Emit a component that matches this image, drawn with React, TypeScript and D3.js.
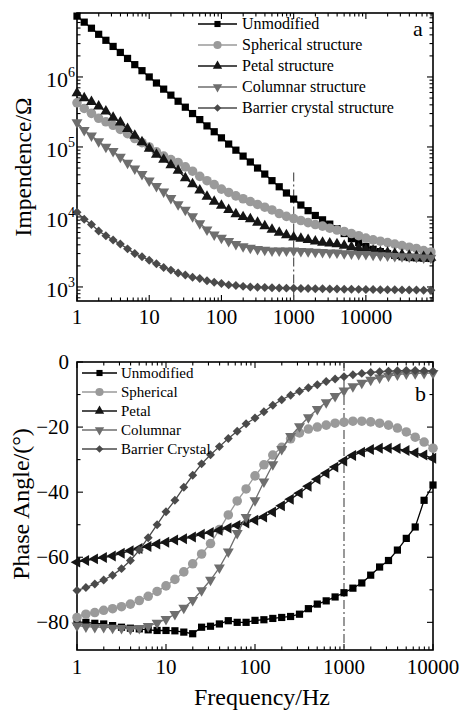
import React from 'react';
import * as d3 from 'd3';

// frequencies (Hz), 10 points per decade
const freq = [
  1, 1.259, 1.585, 1.995, 2.512, 3.162, 3.981, 5.012, 6.31, 7.943,
  10, 12.59, 15.85, 19.95, 25.12, 31.62, 39.81, 50.12, 63.1, 79.43,
  100, 125.9, 158.5, 199.5, 251.2, 316.2, 398.1, 501.2, 631, 794.3,
  1000, 1259, 1585, 1995, 2512, 3162, 3981, 5012, 6310, 7943,
  10000, 12589, 15849, 19953, 25119, 31623, 39811, 50119, 63096, 79433,
];

// panel a: impedance (ohm)
const impUnmodified = [
  7.4e6, 6.07e6, 4.97e6, 4.07e6, 3.34e6, 2.73e6, 2.24e6, 1.84e6, 1.5e6, 1.23e6,
  1.0e6, 8.2e5, 6.7e5, 5.5e5, 4.5e5, 3.7e5, 3.0e5, 2.46e5, 2.0e5, 1.65e5,
  1.35e5, 1.1e5, 9.0e4, 7.4e4, 6.1e4, 5.0e4, 4.1e4, 3.3e4, 2.7e4, 2.2e4,
  1.8e4, 1.48e4, 1.23e4, 1.05e4, 9.1e3, 7.9e3, 6.8e3, 5.8e3, 4.9e3, 4.3e3,
  3.8e3, 3.45e3, 3.2e3, 3.0e3, 2.82e3, 2.7e3, 2.63e3, 2.6e3, 2.57e3, 2.55e3,
];
const impSpherical = [
  4.27e5, 3.55e5, 3.02e5, 2.57e5, 2.29e5, 2.04e5, 1.78e5, 1.55e5, 1.32e5, 1.15e5,
  1.0e5, 8.5e4, 7.4e4, 6.6e4, 6.0e4, 5.2e4, 4.5e4, 3.8e4, 3.3e4, 2.9e4,
  2.5e4, 2.24e4, 2.0e4, 1.82e4, 1.66e4, 1.51e4, 1.38e4, 1.26e4, 1.12e4, 1.02e4,
  9.5e3, 8.9e3, 8.3e3, 7.8e3, 7.4e3, 6.9e3, 6.5e3, 6.2e3, 5.8e3, 5.4e3,
  5.0e3, 4.7e3, 4.5e3, 4.3e3, 4.1e3, 3.9e3, 3.7e3, 3.55e3, 3.3e3, 3.16e3,
];
const impPetal = [
  5.9e5, 5.0e5, 4.4e5, 3.8e5, 3.24e5, 2.63e5, 2.24e5, 1.82e5, 1.45e5, 1.17e5,
  9.5e4, 7.8e4, 6.6e4, 5.5e4, 4.6e4, 3.6e4, 2.95e4, 2.4e4, 1.95e4, 1.66e4,
  1.45e4, 1.26e4, 1.1e4, 1.0e4, 9.3e3, 8.3e3, 7.4e3, 6.6e3, 6.0e3, 5.5e3,
  5.1e3, 4.9e3, 4.7e3, 4.5e3, 4.3e3, 4.2e3, 4.1e3, 3.9e3, 3.7e3, 3.55e3,
  3.4e3, 3.3e3, 3.16e3, 3.1e3, 3.0e3, 2.9e3, 2.8e3, 2.75e3, 2.7e3, 2.63e3,
];
const impColumnar = [
  2.24e5, 1.74e5, 1.45e5, 1.2e5, 1.0e5, 8.7e4, 7.2e4, 5.9e4, 4.9e4, 4.1e4,
  3.3e4, 2.75e4, 2.3e4, 1.86e4, 1.51e4, 1.26e4, 1.02e4, 8.1e3, 6.6e3, 5.6e3,
  5.0e3, 4.5e3, 4.1e3, 3.8e3, 3.6e3, 3.47e3, 3.39e3, 3.31e3, 3.3e3, 3.3e3,
  3.3e3, 3.24e3, 3.22e3, 3.16e3, 3.15e3, 3.1e3, 3.08e3, 3.02e3, 3.0e3, 2.95e3,
  2.93e3, 2.88e3, 2.82e3, 2.8e3, 2.75e3, 2.73e3, 2.7e3, 2.68e3, 2.63e3, 2.6e3,
];
const impBarrier = [
  1.17e4, 9.3e3, 7.8e3, 6.3e3, 5.4e3, 4.7e3, 4.1e3, 3.5e3, 3.0e3, 2.7e3,
  2.4e3, 2.14e3, 1.9e3, 1.74e3, 1.58e3, 1.48e3, 1.38e3, 1.32e3, 1.23e3, 1.17e3,
  1.12e3, 1.07e3, 1.05e3, 1.02e3, 1.0e3, 990, 980, 975, 968, 962,
  957, 952, 948, 944, 940, 936, 933, 930, 927, 924,
  921, 918, 915, 912, 910, 908, 905, 903, 900, 898,
];

// panel b: phase angle (deg), 1 Hz .. 10 kHz
const phaseUnmodified = [
  -80, -80, -80.3, -80.5, -81, -81.5, -81.8, -82, -82.3, -82.5,
  -82.5, -82.6, -83, -83.5, -81.5, -81.2, -80.5, -79.5, -80, -80,
  -79.4, -79.2, -78.8, -78.5, -78.2, -77.5, -75.8, -74.4, -73.4, -72.2,
  -70.9, -69.5, -67.9, -65.5, -63, -61, -57.8, -54.2, -50.7, -42.5, -37.8,
];
const phaseSpherical = [
  -78.5, -77.5, -77, -76.3, -75.8, -75.2, -74.4, -73.3, -72, -70.5,
  -68.8, -66.8, -64.5, -62, -59, -55.8, -51.5, -47, -42.7, -39,
  -35, -31.6, -28.6, -26.2, -23.6, -21.8, -20.6, -20, -19.4, -18.8,
  -18.5, -18.2, -18.2, -18.4, -18.8, -19.4, -20.3, -21.5, -23.1, -24.6, -26.5,
];
const phasePetal = [
  -61.5, -61, -60.5, -60.1, -59.6, -58.8, -58, -57.3, -56.7, -55.9,
  -55.4, -54.7, -54.3, -53.8, -52.9, -52.4, -51.7, -51, -50.2, -49.5,
  -48.6, -47.6, -46.1, -44.2, -42.2, -40.3, -38.2, -36, -34.2, -32.3,
  -30.4, -28.7, -27.7, -26.9, -26.5, -26.5, -26.6, -27.2, -27.9, -28.6, -29.6,
];
const phaseColumnar = [
  -81, -81.3, -81.5, -81.5, -81.7, -81.8, -82, -81.8, -81.2, -80.2,
  -79, -77.5, -75.6, -73.2, -70.2, -67, -63.2, -58.3, -52.6, -47.7,
  -42.5, -36.8, -31.5, -26.8, -22.8, -19.8, -17, -14.5, -12.4, -10.5,
  -8.8, -7.5, -6.4, -5.5, -4.8, -4.3, -3.9, -3.6, -3.5, -3.4, -3.4,
];
const phaseBarrier = [
  -70.2, -69.3, -68.2, -67, -65.5, -63.5, -61, -57.8, -54, -50,
  -46, -42.5, -38.5, -34.8, -31.3, -28.5, -26, -23.5, -21.3, -19,
  -17.2, -15.3, -13.3, -11.6, -10.2, -9, -7.9, -7, -6, -5.2,
  -4.5, -3.9, -3.5, -3.2, -3, -2.8, -2.7, -2.6, -2.6, -2.7, -2.8,
];

const legendA = ['Unmodified', 'Spherical structure', 'Petal structure', 'Columnar structure', 'Barrier crystal structure'];
const legendB = ['Unmodified', 'Spherical', 'Petal', 'Columnar', 'Barrier Crystal'];
const freqTicks = [1, 10, 100, 1000, 10000];
const impExponents = [3, 4, 5, 6];
const phaseTicks = [0, -20, -40, -60, -80];

const FONT = '"Liberation Serif", "Times New Roman", serif';

const looks = [
  { color: '#000000', shape: 'square' },
  { color: '#9a9a9a', shape: 'circle' },
  { color: '#151515', shape: 'up' },
  { color: '#6e6e6e', shape: 'down' },
  { color: '#4a4a4a', shape: 'diamond' },
];

function symbolOf(shape) {
  if (shape === 'square') return { d: d3.symbol().type(d3.symbolSquare).size(52)(), rot: 0 };
  if (shape === 'circle') return { d: d3.symbol().type(d3.symbolCircle).size(72)(), rot: 0 };
  if (shape === 'diamond') return { d: d3.symbol().type(d3.symbolSquare).size(40)(), rot: 45 };
  const tri = d3.symbol().type(d3.symbolTriangle).size(52)();
  if (shape === 'down') return { d: tri, rot: 180 };
  if (shape === 'left') return { d: tri, rot: -90 };
  return { d: tri, rot: 0 };
}

function logMinors(lo, hi) {
  const out = [];
  for (let p = Math.floor(Math.log10(lo)); p <= Math.ceil(Math.log10(hi)); p++) {
    for (let m = 2; m <= 9; m++) {
      const v = m * Math.pow(10, p);
      if (v > lo && v < hi) out.push(v);
    }
  }
  return out;
}

function Frame({ x0, x1, y0, y1, xMaj, xMin, yMaj, yMin }) {
  const big = 6, small = 3.5;
  const lines = [];
  xMaj.forEach((x, i) => {
    lines.push(<line key={'xb' + i} x1={x} x2={x} y1={y1} y2={y1 - big} />);
    lines.push(<line key={'xt' + i} x1={x} x2={x} y1={y0} y2={y0 + big} />);
  });
  xMin.forEach((x, i) => {
    lines.push(<line key={'xmb' + i} x1={x} x2={x} y1={y1} y2={y1 - small} />);
    lines.push(<line key={'xmt' + i} x1={x} x2={x} y1={y0} y2={y0 + small} />);
  });
  yMaj.forEach((y, i) => {
    lines.push(<line key={'yl' + i} x1={x0} x2={x0 + big} y1={y} y2={y} />);
    lines.push(<line key={'yr' + i} x1={x1} x2={x1 - big} y1={y} y2={y} />);
  });
  yMin.forEach((y, i) => {
    lines.push(<line key={'yml' + i} x1={x0} x2={x0 + small} y1={y} y2={y} />);
    lines.push(<line key={'ymr' + i} x1={x1} x2={x1 - small} y1={y} y2={y} />);
  });
  return (
    <g stroke="#000" strokeWidth={1.1}>
      <rect x={x0} y={y0} width={x1 - x0} height={y1 - y0} fill="none" strokeWidth={1.6} />
      {lines}
    </g>
  );
}

function Series({ xs, ys, x, y, color, shape }) {
  const line = d3.line().x((d, i) => x(xs[i])).y(d => y(d));
  const sym = symbolOf(shape);
  return (
    <g>
      <path d={line(ys)} fill="none" stroke={color} strokeWidth={1.3} />
      {ys.map((v, i) => (
        <path key={i} d={sym.d} fill={color}
          transform={`translate(${x(xs[i])},${y(v)}) rotate(${sym.rot})`} />
      ))}
    </g>
  );
}

function Legend({ labels, x0, x1, xt, y0, dy, size, shapes }) {
  return (
    <g>
      {labels.map((lab, i) => {
        const yy = y0 + i * dy;
        const sym = symbolOf(shapes[i]);
        const c = looks[i].color;
        return (
          <g key={i}>
            <line x1={x0} x2={x1} y1={yy} y2={yy} stroke={c} strokeWidth={1.4} />
            <path d={sym.d} fill={c} transform={`translate(${(x0 + x1) / 2},${yy}) rotate(${sym.rot}) scale(0.85)`} />
            <text x={xt} y={yy + 5} fontSize={size} fontFamily={FONT} fill="#000">{lab}</text>
          </g>
        );
      })}
    </g>
  );
}

export default function App() {
  const xA = d3.scaleLog().domain([1, 85000]).range([77, 433]);
  const yA = d3.scaleLog().domain([630, 8.2e6]).range([301, 13]);
  const xB = d3.scaleLog().domain([1, 10000]).range([77, 433]);
  const yB = d3.scaleLinear().domain([-88.5, 0]).range([650, 362]);

  const impSeries = [impUnmodified, impSpherical, impPetal, impColumnar, impBarrier];
  const phaseSeries = [phaseUnmodified, phaseSpherical, phasePetal, phaseColumnar, phaseBarrier];
  const freqB = freq.slice(0, 41);

  const shapesA = looks.map(l => l.shape);
  const shapesB = ['square', 'circle', 'left', 'down', 'diamond'];

  const yMinorB = [-10, -30, -50, -70];

  return (
    <svg width={463} height={712} style={{ position: 'absolute', left: 0, top: 0, background: '#fff' }}>
      {/* panel a */}
      <Frame x0={77} x1={433} y0={13} y1={301}
        xMaj={freqTicks.map(xA)} xMin={logMinors(1, 85000).map(xA)}
        yMaj={impExponents.map(e => yA(Math.pow(10, e)))} yMin={logMinors(630, 8.2e6).map(yA)} />
      <line x1={xA(1000)} x2={xA(1000)} y1={yA(4.3e4)} y2={301}
        stroke="#555" strokeWidth={1.2} strokeDasharray="9,3,2,3" />
      {impSeries.map((s, i) => (
        <Series key={i} xs={freq} ys={s} x={xA} y={yA} color={looks[i].color} shape={shapesA[i]} />
      ))}
      <Legend labels={legendA} x0={198} x1={237} xt={242} y0={24} dy={21} size={16} shapes={shapesA} />
      <text x={413} y={36} fontSize={22} fontFamily={FONT}>a</text>
      {freqTicks.map((t, i) => (
        <text key={i} x={xA(t)} y={324} fontSize={21} fontFamily={FONT} textAnchor="middle">{t}</text>
      ))}
      {impExponents.map(e => (
        <text key={e} x={75} y={yA(Math.pow(10, e)) + 10} fontSize={22} fontFamily={FONT} textAnchor="end">
          10<tspan fontSize={14} dy={-10}>{e}</tspan>
        </text>
      ))}
      <text transform="translate(31,167) rotate(-90)" fontSize={23.5} fontFamily={FONT} textAnchor="middle">Impendence/Ω</text>

      {/* panel b */}
      <Frame x0={77} x1={433} y0={362} y1={650}
        xMaj={freqTicks.map(xB)} xMin={logMinors(1, 10000).map(xB)}
        yMaj={phaseTicks.map(yB)} yMin={yMinorB.map(yB)} />
      <line x1={xB(1000)} x2={xB(1000)} y1={362} y2={650}
        stroke="#555" strokeWidth={1.2} strokeDasharray="9,3,2,3" />
      {phaseSeries.map((s, i) => (
        <Series key={i} xs={freqB} ys={s} x={xB} y={yB} color={looks[i].color} shape={shapesB[i]} />
      ))}
      <Legend labels={legendB} x0={82} x1={117} xt={121} y0={373} dy={19} size={15} shapes={shapesA} />
      <text x={415} y={401} fontSize={22} fontFamily={FONT}>b</text>
      {freqTicks.map((t, i) => (
        <text key={i} x={xB(t)} y={674} fontSize={21} fontFamily={FONT} textAnchor="middle">{t}</text>
      ))}
      {phaseTicks.map(t => (
        <text key={t} x={69} y={yB(t) + 7} fontSize={21} fontFamily={FONT} textAnchor="end">
          {t === 0 ? '0' : '\u2212' + Math.abs(t)}
        </text>
      ))}
      <text transform="translate(29,504) rotate(-90)" fontSize={24} fontFamily={FONT} textAnchor="middle">Phase Angle/(°)</text>
      <text x={262} y={705} fontSize={24} fontFamily={FONT} textAnchor="middle">Frequency/Hz</text>
    </svg>
  );
}
